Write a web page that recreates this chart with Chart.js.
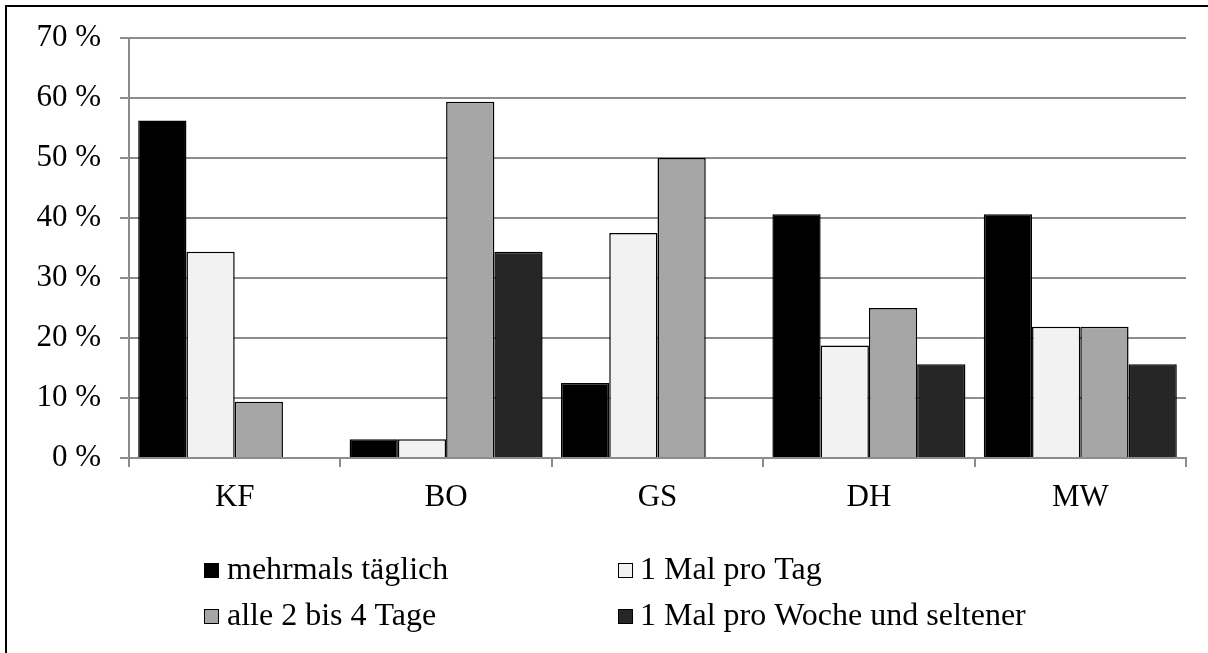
<!DOCTYPE html>
<html><head><meta charset="utf-8">
<script src="https://cdn.jsdelivr.net/npm/chart.js@4/dist/chart.umd.min.js"></script>
<style>
html,body{margin:0;padding:0;background:#fff;}
#wrap{width:1208px;height:653px;position:relative;}
</style></head>
<body><div id="wrap"><canvas id="c" width="1208" height="653"></canvas></div>
<script>
const categories = ["KF", "BO", "GS", "DH", "MW"];
const seriesNames = ["mehrmals täglich", "1 Mal pro Tag", "alle 2 bis 4 Tage", "1 Mal pro Woche und seltener"];
const mehrmalsTaeglich = [56.25, 3.125, 12.5, 40.625, 40.625];
const einMalProTag = [34.375, 3.125, 37.5, 18.75, 21.875];
const alle2bis4Tage = [9.375, 59.375, 50, 25, 21.875];
const einMalProWoche = [0, 34.375, 0, 15.625, 15.625];
const yTicks = [0, 10, 20, 30, 40, 50, 60, 70];
const colors = ["#000000", "#f2f2f2", "#a6a6a6", "#262626"];

const FONT = "'Liberation Serif', 'Times New Roman', serif";
const values = [mehrmalsTaeglich, einMalProTag, alle2bis4Tage, einMalProWoche];

const framePlugin = {
  id: 'frame',
  beforeDraw(chart) {
    const ctx = chart.ctx;
    ctx.save();
    ctx.fillStyle = '#fff';
    ctx.fillRect(0, 0, chart.width, chart.height);
    ctx.strokeStyle = '#000';
    ctx.lineWidth = 2;
    ctx.beginPath();
    ctx.moveTo(6, chart.height);
    ctx.lineTo(6, 6);
    ctx.lineTo(chart.width, 6);
    ctx.stroke();
    ctx.restore();
  }
};

const legendPlugin = {
  id: 'gridLegend',
  afterDraw(chart) {
    const ctx = chart.ctx;
    const boxX = [204, 618], textX = [227, 640], rowY = [570, 616];
    ctx.save();
    ctx.font = "32px " + FONT;
    ctx.textBaseline = 'middle';
    chart.data.datasets.forEach((ds, i) => {
      const col = i % 2, row = Math.floor(i / 2);
      const y = rowY[row];
      ctx.fillStyle = ds.backgroundColor;
      ctx.fillRect(boxX[col], y - 7, 15, 15);
      ctx.strokeStyle = '#000';
      ctx.lineWidth = 1;
      ctx.strokeRect(boxX[col] + 0.5, y - 6.5, 14, 14);
      ctx.fillStyle = '#000';
      ctx.fillText(ds.label, textX[col], y + 1);
    });
    ctx.restore();
  }
};

new Chart(document.getElementById('c'), {
  type: 'bar',
  data: {
    labels: categories,
    datasets: seriesNames.map((n, i) => ({
      label: n,
      data: values[i],
      backgroundColor: colors[i],
      borderColor: '#000',
      borderWidth: 1.5,
      barPercentage: 1.0,
      categoryPercentage: 0.913
    }))
  },
  options: {
    responsive: false,
    animation: false,
    devicePixelRatio: 1,
    layout: { padding: { left: 0, top: 38, right: 22, bottom: 135 } },
    plugins: { legend: { display: false }, tooltip: { enabled: false } },
    scales: {
      x: {
        grid: { display: true, drawOnChartArea: false, drawTicks: true, tickLength: 9, color: '#8c8c8c', lineWidth: 2, offset: true },
        border: { display: true, color: '#8c8c8c', width: 2 },
        ticks: { font: { family: FONT, size: 31 }, color: '#000', padding: 12 },
        afterFit(s) { s.height = 60; }
      },
      y: {
        min: 0, max: 70,
        afterBuildTicks(s) { s.ticks = yTicks.map(v => ({ value: v })); },
        grid: { color: '#8c8c8c', lineWidth: 2, tickLength: 9, drawTicks: true },
        border: { display: true, color: '#8c8c8c', width: 2 },
        ticks: { font: { family: FONT, size: 31 }, color: '#000', padding: 19, callback: v => v + ' %' },
        afterFit(s) { s.width = 129; }
      }
    }
  },
  plugins: [framePlugin, legendPlugin]
});
</script></body></html>
